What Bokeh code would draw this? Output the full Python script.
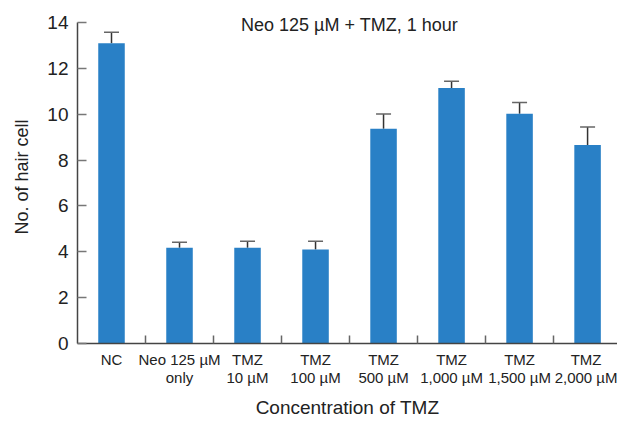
from bokeh.plotting import figure
from bokeh.models import ColumnDataSource, Whisker, TeeHead, FixedTicker, Label, Range1d
from bokeh.embed import file_html
from bokeh.resources import INLINE

categories = ["NC", "Neo 125 µM\nonly", "TMZ\n10 µM", "TMZ\n100 µM", "TMZ\n500 µM",
              "TMZ\n1,000 µM", "TMZ\n1,500 µM", "TMZ\n2,000 µM"]
means = [13.09, 4.18, 4.18, 4.10, 9.36, 11.14, 10.02, 8.66]
err_upper = [13.57, 4.42, 4.46, 4.46, 10.01, 11.43, 10.51, 9.44]
y_ticks = [0, 2, 4, 6, 8, 10, 12, 14]

positions = list(range(1, len(categories) + 1))
FONT = "Liberation Sans"
TXT = "#222222"

src = ColumnDataSource(dict(x=positions, top=means, upper=err_upper, lower=means))

p = figure(width=617, height=421, output_backend="svg", toolbar_location=None,
           x_range=Range1d(0.5, 8.44), y_range=Range1d(0, 14.52),
           min_border_left=77, min_border_right=0, min_border_top=10, min_border_bottom=74)
p.outline_line_color = None
p.grid.visible = False
p.background_fill_color = "white"

p.vbar(x="x", top="top", width=0.39, bottom=0, source=src, color="#2980c6", line_color=None)
w = Whisker(base="x", upper="upper", lower="lower", source=src,
            upper_head=TeeHead(size=15, line_color="#666666", line_width=1.5),
            lower_head=None, line_color="#333333", line_width=1.5)
p.add_layout(w)

# x axis
xa = p.xaxis[0]
xa.ticker = FixedTicker(ticks=positions, minor_ticks=[i + 0.5 for i in positions[:-1]])
xa.major_label_overrides = {i: c for i, c in zip(positions, categories)}
xa.major_tick_in = 0
xa.major_tick_out = 0
xa.minor_tick_in = 8
xa.minor_tick_out = 0
xa.minor_tick_line_color = "#666666"
xa.minor_tick_line_width = 1.5
xa.axis_line_color = "#444444"
xa.axis_line_width = 1.5
xa.major_label_text_font = FONT
xa.major_label_text_font_size = "15px"
xa.major_label_text_line_height = 1.1
xa.major_label_text_color = TXT
xa.major_label_standoff = 7
xa.axis_label = "Concentration of TMZ"
xa.axis_label_text_font = FONT
xa.axis_label_text_font_size = "19px"
xa.axis_label_text_font_style = "normal"
xa.axis_label_text_color = TXT
xa.axis_label_standoff = 8

# y axis
ya = p.yaxis[0]
ya.ticker = FixedTicker(ticks=y_ticks)
ya.bounds = (0, 14)
ya.major_tick_in = 9
ya.major_tick_out = 0
ya.minor_tick_line_color = None
ya.major_tick_line_color = "#777777"
ya.major_tick_line_width = 1.5
ya.axis_line_color = "#444444"
ya.axis_line_width = 1.5
ya.major_label_text_font = FONT
ya.major_label_text_font_size = "19px"
ya.major_label_text_color = TXT
ya.major_label_standoff = 9
ya.axis_label = "No. of hair cell"
ya.axis_label_text_font = FONT
ya.axis_label_text_font_size = "18px"
ya.axis_label_text_font_style = "normal"
ya.axis_label_text_color = TXT
ya.axis_label_standoff = 12

title = Label(x=4.5, y=13.87, text="Neo 125 µM + TMZ, 1 hour", text_align="center",
              text_baseline="middle", text_font=FONT, text_font_size="18px", text_color=TXT)
p.add_layout(title)

open("out.html", "w").write(file_html(p, INLINE))
